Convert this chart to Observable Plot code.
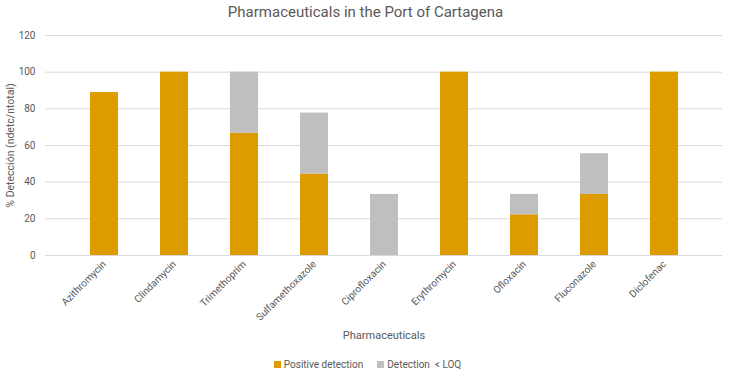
<!DOCTYPE html>
<html>
<head>
<meta charset="utf-8">
<script src="https://cdn.jsdelivr.net/npm/d3@7"></script>
<script src="https://cdn.jsdelivr.net/npm/@observablehq/plot@0.6"></script>
<style>
  body { margin: 0; background: #fff; font-family: Roboto, "Open Sans", sans-serif; }
  #wrap { position: relative; width: 731px; height: 373px; }
  #title { position: absolute; left: 0; top: 2px; width: 731px; text-align: center; font-size: 15px; color: #595959; line-height: 20px; }
  #chart { position: absolute; left: 0; top: 24px; }
  #legend { position: absolute; left: 0; top: 358px; width: 731px; display: flex; justify-content: center; gap: 14px; font-size: 10px; color: #595959; line-height: 14px; padding-left: 2px; }
  .sw { display: inline-block; width: 7px; height: 7px; margin-right: 3px; vertical-align: 0px; }
</style>
</head>
<body>
<div id="wrap">
  <div id="title">Pharmaceuticals in the Port of Cartagena</div>
  <div id="chart"></div>
  <div id="legend"></div>
</div>
<script>
const drugs = ["Azithromycin", "Clindamycin", "Trimethoprim", "Sulfamethoxazole", "Ciprofloxacin", "Erythromycin", "Ofloxacin", "Fluconazole", "Diclofenac"];
const positive = [88.9, 100, 66.7, 44.4, 0, 100, 22.2, 33.3, 100];
const belowLoq = [0, 0, 33.3, 33.3, 33.3, 0, 11.1, 22.2, 0];
const seriesNames = ["Positive detection", "Detection  < LOQ"];
const seriesColors = ["#DE9B00", "#BFBFBF"];
const yTicks = [0, 20, 40, 60, 80, 100, 120];

const rows = [];
drugs.forEach((d, i) => {
  rows.push({drug: d, series: seriesNames[0], value: positive[i]});
  rows.push({drug: d, series: seriesNames[1], value: belowLoq[i]});
});

const chart = Plot.plot({
  width: 731,
  height: 322,
  marginTop: 11,
  marginBottom: 91,
  marginLeft: 45,
  marginRight: 9,
  style: { fontFamily: "Roboto, 'Open Sans', sans-serif", fontSize: "10px", color: "#595959" },
  x: { domain: drugs, padding: 0.6, label: null },
  y: { domain: [0, 120], label: null },
  color: { domain: seriesNames, range: seriesColors },
  marks: [
    Plot.gridY(yTicks, { stroke: "#D9D9D9", strokeOpacity: 1 }),
    Plot.barY(rows, { x: "drug", y: "value", fill: "series", order: seriesNames }),
    Plot.axisY(yTicks, { tickSize: 0, tickPadding: 10, label: null }),
    Plot.axisX({ tickSize: 0, tickPadding: 7, tickRotate: -45, label: null }),
    Plot.text(["% Detección (ndetc/ntotal)"], { frameAnchor: "left", dx: -35, rotate: -90, textAnchor: "middle", fontSize: 10.5, fill: "#595959" }),
    Plot.text(["Pharmaceuticals"], { frameAnchor: "bottom", dy: 83, fontSize: 11, fill: "#595959" })
  ]
});
document.getElementById("chart").appendChild(chart);

const legend = document.getElementById("legend");
seriesNames.forEach((name, i) => {
  const item = document.createElement("span");
  const sw = document.createElement("span");
  sw.className = "sw";
  sw.style.background = seriesColors[i];
  item.appendChild(sw);
  item.appendChild(document.createTextNode(name));
  item.style.whiteSpace = "pre";
  legend.appendChild(item);
});
</script>
</body>
</html>
